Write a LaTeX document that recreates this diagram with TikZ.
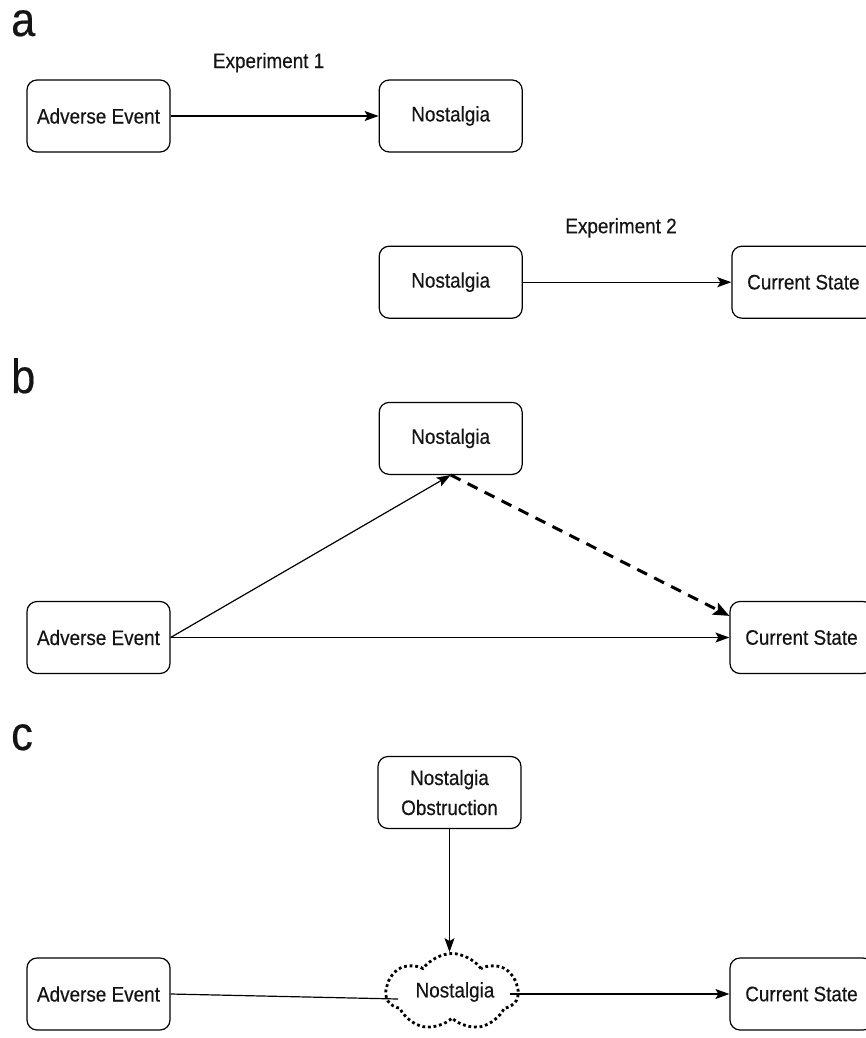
\documentclass[tikz,border=0pt]{standalone}
\usepackage{fontspec}
\setmainfont{Liberation Sans}[FakeStretch=0.9, FakeBold=0.4]
\usepackage{tikz}
\usetikzlibrary{arrows.meta, positioning, shapes.symbols}

\begin{document}
\begin{tikzpicture}[
    x=1pt, y=-1pt,
    box/.style={
        draw,
        rounded corners=10pt,
        align=center,
        minimum width=143pt,
        minimum height=72pt,
        inner sep=0pt,
        line width=1.2pt,
        text=black!92,
        font=\fontsize{21}{30}\selectfont
    },
    panel/.style={anchor=base west, inner sep=0pt, text=black!92,
        font=\fontsize{48}{48}\selectfont},
    explabel/.style={inner sep=0pt, text=black!92,
        font=\fontsize{21}{30}\selectfont},
    arrow/.style={-{Stealth[length=14pt, width=10pt, inset=3pt]}, line width=1.2pt},
    dasharrow/.style={-{Stealth[length=16pt, width=13pt, inset=3pt]}, line width=3pt,
        dash pattern=on 11pt off 8pt},
    fog/.style={cloud, cloud puffs=7, cloud puff arc=110, cloud ignores aspect,
        draw, line width=2.8pt, dash pattern=on 2.8pt off 2.8pt,
        minimum width=132pt, minimum height=77pt, inner sep=0pt,
        text=black!92, font=\fontsize{21}{30}\selectfont}
]
\useasboundingbox (0,0) rectangle (866,1038);

% --- Panel a
\node[panel] (la) at (11,36) {a};
\node[box] (ae1) at (98.5,116) {Adverse Event};
\node[box, right=208pt of ae1] (nos1) {Nostalgia};
\node[box, below=93pt of nos1] (nos2) {Nostalgia};
\node[box, right=208.5pt of nos2] (cs2) {Current State};

\draw[arrow] (ae1) -- node[explabel, above=43pt, xshift=-6pt] {Experiment 1} (nos1);
\draw[arrow] (nos2) -- node[explabel, above=44pt, xshift=-6pt] {Experiment 2} (cs2);

% --- Panel b
\node[panel] (lb) at (11,393) {b};
\node[box, below=83pt of nos2] (nos3) {Nostalgia};
\node[box] (ae3) at (98.5,637.5) {Adverse Event};
\node[box] (cs3) at (801.5,637.5) {Current State};

\draw[arrow] (ae3.east) -- (nos3.south);
\draw[arrow] (ae3.east) -- (cs3.west);
\draw[dasharrow] (nos3.south) -- ([yshift=-15pt]cs3.north west);

% --- Panel c
\node[panel] (lc) at (11,750) {c};
\node[box] (obs) at (449.5,792.5) {Nostalgia\\Obstruction};
\node[box] (ae4) at (98.5,994) {Adverse Event};
\node[fog] (cloud) at (452,992) {\hspace*{6pt}Nostalgia};
\node[box] (cs4) at (801.5,994) {Current State};

\draw[arrow] (obs.south) -- (obs.south |- cloud.north);
\draw[line width=1.2pt] (ae4.east) -- ([xshift=14pt, yshift=-7pt]cloud.west);
\draw[arrow] ([xshift=-10pt]cloud.east |- cs4.west) -- (cs4.west);

\end{tikzpicture}
\end{document}
